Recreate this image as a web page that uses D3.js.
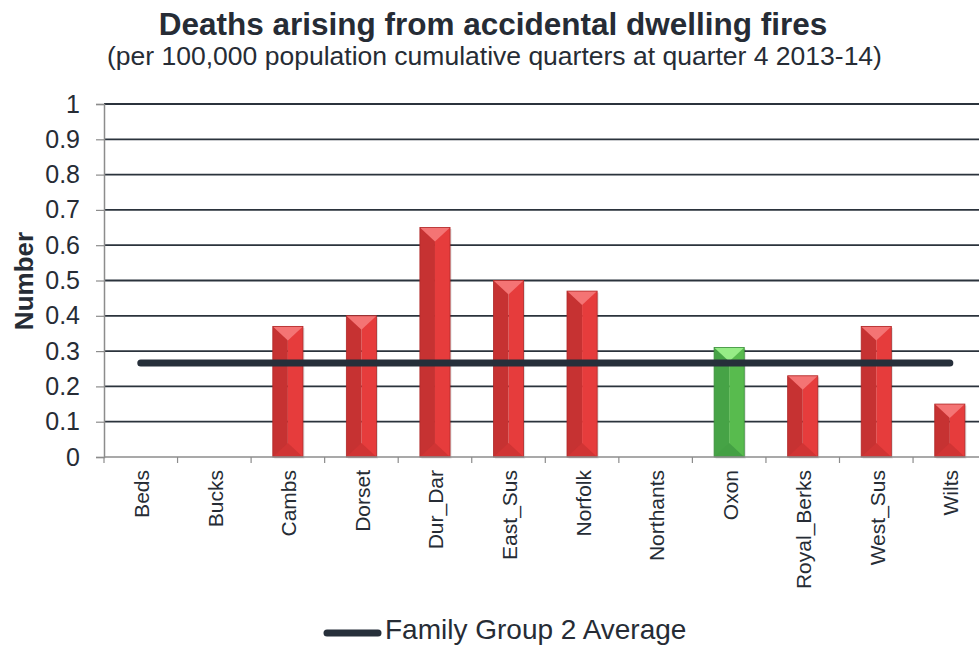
<!DOCTYPE html>
<html><head><meta charset="utf-8">
<script src="https://cdn.jsdelivr.net/npm/d3@7/dist/d3.min.js"></script>
<style>body{margin:0;background:#fff;font-family:"Liberation Sans",Arial,sans-serif;}</style>
</head><body><svg id="c" width="979" height="646"></svg>
<script>
const categories = ["Beds","Bucks","Cambs","Dorset","Dur_Dar","East_Sus","Norfolk","Northants","Oxon","Royal_Berks","West_Sus","Wilts"];
const values = [0,0,0.37,0.40,0.65,0.50,0.47,0,0.31,0.23,0.37,0.15];
const highlight = [false,false,false,false,false,false,false,false,true,false,false,false];
const averageValue = 0.266;
const averageLabel = "Family Group 2 Average";
const yTicks = [0,0.1,0.2,0.3,0.4,0.5,0.6,0.7,0.8,0.9,1];

const svg = d3.select("#c");
const FF = "Liberation Sans, Arial, sans-serif";
const m = {l:104, t:104, r:986.6, b:457};
const x = d3.scaleBand().domain(categories).range([m.l, m.r]).paddingInner(0.59).paddingOuter(0.295);
const xb = d3.scaleBand().domain(categories).range([m.l, m.r]);
const y = d3.scaleLinear().domain([0,1]).range([m.b, m.t]);

svg.append("text").attr("x",493).attr("y",35).attr("text-anchor","middle").attr("font-family",FF)
  .attr("font-size",31.5).attr("font-weight","bold").attr("fill","#262c35")
  .text("Deaths arising from accidental dwelling fires");
svg.append("text").attr("x",494.5).attr("y",65).attr("text-anchor","middle").attr("font-family",FF)
  .attr("font-size",26.5).attr("fill","#262c35")
  .text("(per 100,000 population cumulative quarters at quarter 4 2013-14)");

// gridlines
svg.append("g").selectAll("line").data(yTicks.filter(d=>d>0)).join("line")
  .attr("x1",m.l).attr("x2",m.r).attr("y1",d=>y(d)).attr("y2",d=>y(d))
  .attr("stroke","#2b333c").attr("stroke-width",1.8);

// y axis
const ya = svg.append("g").attr("transform",`translate(${m.l},0)`)
  .call(d3.axisLeft(y).tickValues(yTicks).tickFormat(d=>d3.format("")(d)).tickSize(8).tickPadding(16));
ya.select(".domain").attr("stroke","#8c8c8c").attr("stroke-width",1.5);
ya.selectAll(".tick line").attr("stroke","#8c8c8c").attr("stroke-width",1.2);
ya.selectAll("text").attr("font-size",25).attr("fill","#262c35").attr("font-family",FF);

svg.append("text").attr("transform","translate(33,281) rotate(-90)").attr("text-anchor","middle").attr("font-family",FF)
  .attr("font-size",26).attr("font-weight","bold").attr("fill","#262c35").text("Number");

// bars
const bars = svg.append("g").selectAll("g").data(categories.map((c,i)=>({c,v:values[i],h:highlight[i]})).filter(d=>d.v>0)).join("g");
bars.each(function(d){
  const g = d3.select(this);
  const x0 = x(d.c), w = x.bandwidth(), y0 = y(d.v), y1 = y(0), mid = x0+w/2;
  const col = d.h ? {l:"#46a346", r:"#58bb4e", t:"#96ec86", b:"#44a044", e:"#3a8f3a"} : {l:"#c63232", r:"#e63c3c", t:"#f47474", b:"#d03434", e:"#b02828"};
  const bev = Math.min(w/2, 14);
  g.append("rect").attr("x",x0+1.5).attr("y",y0+1.5).attr("width",w).attr("height",y1-y0).attr("fill","#000").attr("opacity",0.12);
  g.append("rect").attr("x",x0).attr("y",y0).attr("width",w/2).attr("height",y1-y0).attr("fill",col.l);
  g.append("rect").attr("x",mid).attr("y",y0).attr("width",w/2).attr("height",y1-y0).attr("fill",col.r);
  if (y1-y0 > bev*2) {
    g.append("path").attr("d",`M${x0},${y0}L${x0+w},${y0}L${mid},${y0+bev}Z`).attr("fill",col.t);
    g.append("path").attr("d",`M${x0},${y1}L${x0+w},${y1}L${mid},${y1-bev}Z`).attr("fill",col.b);
  }
  g.append("rect").attr("x",x0).attr("y",y0).attr("width",w).attr("height",y1-y0).attr("fill","none").attr("stroke",col.e).attr("stroke-width",0.8);
});

// x axis
const xa = svg.append("g").attr("transform",`translate(0,${m.b})`);
xa.append("line").attr("x1",m.l).attr("x2",m.r).attr("stroke","#8c8c8c").attr("stroke-width",1.5);
xa.selectAll("line.t").data(categories).join("line").attr("class","t")
  .attr("x1",d=>xb(d)).attr("x2",d=>xb(d)).attr("y1",0).attr("y2",6).attr("stroke","#8c8c8c").attr("stroke-width",1.2);
xa.selectAll("text").data(categories).join("text")
  .attr("transform",d=>`translate(${xb(d)+xb.bandwidth()/2+8.5},13) rotate(-90)`).attr("font-family",FF)
  .attr("text-anchor","end").attr("font-size",21).attr("fill","#262c35").text(d=>d);

// average line
const line = d3.line().x(d=>xb(d)+xb.bandwidth()/2).y(()=>y(averageValue));
svg.append("path").datum(categories).attr("d",line).attr("fill","none")
  .attr("stroke","#262f3a").attr("stroke-width",7).attr("stroke-linecap","round");

// legend
svg.append("line").attr("x1",327).attr("x2",378).attr("y1",633).attr("y2",633)
  .attr("stroke","#262f3a").attr("stroke-width",7).attr("stroke-linecap","round");
svg.append("text").attr("x",385).attr("y",639).attr("font-family",FF).attr("font-size",28).attr("fill","#262c35").text(averageLabel);
</script></body></html>
